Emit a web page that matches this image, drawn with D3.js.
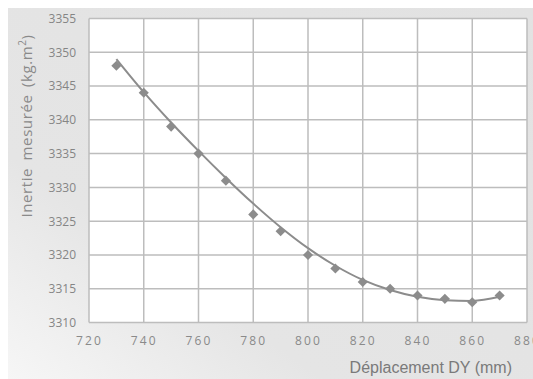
<!DOCTYPE html>
<html>
<head>
<meta charset="utf-8">
<script src="https://cdn.jsdelivr.net/npm/d3@7"></script>
<style>
  body { margin: 0; background: #fff; }
  svg { display: block; }
</style>
</head>
<body>
<div id="root"></div>
<script>
const WIDTH = 533;
const HEIGHT = 379;
const margin = { left: 89, right: 6, top: 18.5, bottom: 56.5 };

// measured points
const deplacement = [730, 740, 750, 760, 770, 780, 790, 800, 810, 820, 830, 840, 850, 860, 870];
const inertie = [3348, 3344, 3339, 3335, 3331, 3326, 3323.5, 3320, 3318, 3316, 3315, 3314, 3313.5, 3313, 3314];
// trend curve
const trend = [3349, 3344.1, 3339.6, 3335.4, 3331.4, 3327.6, 3324.1, 3321, 3318.4, 3316.3, 3314.8, 3313.8, 3313.3, 3313.2, 3313.8];

const xTicks = [720, 740, 760, 780, 800, 820, 840, 860, 880];
const yTicks = [3310, 3315, 3320, 3325, 3330, 3335, 3340, 3345, 3350, 3355];

const w = WIDTH - margin.left - margin.right;
const h = HEIGHT - margin.top - margin.bottom;

const x = d3.scaleLinear().domain([720, 880]).range([0, w]);
const y = d3.scaleLinear().domain([3310, 3355]).range([h, 0]);

const root = d3.select('#root').append('svg')
    .attr('width', WIDTH)
    .attr('height', HEIGHT);

const defs = root.append('defs');
const grad = defs.append('linearGradient')
    .attr('id', 'bg')
    .attr('x1', '100%').attr('y1', '0%')
    .attr('x2', '0%').attr('y2', '100%');
grad.append('stop').attr('offset', '0%').attr('stop-color', '#e2e2e2');
grad.append('stop').attr('offset', '70%').attr('stop-color', '#e5e5e5');
grad.append('stop').attr('offset', '100%').attr('stop-color', '#f6f6f6');

root.append('rect')
    .attr('x', 8).attr('y', 8)
    .attr('width', WIDTH - 8).attr('height', HEIGHT - 8)
    .attr('fill', 'url(#bg)');

const svg = root.append('g')
    .attr('transform', `translate(${margin.left}, ${margin.top})`);

svg.append('rect')
    .attr('width', w).attr('height', h)
    .attr('fill', '#fff');

// grid
svg.append('g')
    .selectAll('line')
    .data(xTicks)
    .enter().append('line')
    .attr('x1', d => x(d)).attr('x2', d => x(d))
    .attr('y1', 0).attr('y2', h)
    .attr('stroke', '#bdbdbd')
    .attr('stroke-width', 1.5);

svg.append('g')
    .selectAll('line')
    .data(yTicks)
    .enter().append('line')
    .attr('x1', 0).attr('x2', w)
    .attr('y1', d => y(d)).attr('y2', d => y(d))
    .attr('stroke', '#bdbdbd')
    .attr('stroke-width', 1.5);

// axes (labels only)
const xAxis = d3.axisBottom(x).tickValues(xTicks).tickFormat(d3.format('d')).tickSize(0).tickPadding(14);
const yAxis = d3.axisLeft(y).tickValues(yTicks).tickFormat(d3.format('d')).tickSize(0).tickPadding(13);

const gx = svg.append('g')
    .attr('transform', `translate(0, ${h})`)
    .call(xAxis);
gx.select('.domain').remove();
gx.selectAll('text')
    .attr('fill', '#8a8a8a')
    .style('font-family', '"Open Sans", sans-serif')
    .style('font-size', '12px')
    .style('letter-spacing', '2.2px');

const gy = svg.append('g').call(yAxis);
gy.select('.domain').remove();
gy.selectAll('text')
    .attr('fill', '#858585')
    .style('font-family', '"Open Sans", sans-serif')
    .style('font-size', '12px');

// axis titles
root.append('text')
    .attr('transform', 'translate(32, 126) rotate(-90)')
    .attr('text-anchor', 'middle')
    .attr('fill', '#8a8a8a')
    .style('font-family', '"Open Sans", sans-serif')
    .style('font-size', '15px')
    .style('letter-spacing', '0.6px')
    .style('word-spacing', '3px')
    .html('Inertie mesurée (kg.m<tspan dy="-6" font-size="10">2</tspan><tspan dy="6">)</tspan>');

root.append('text')
    .attr('x', 512)
    .attr('y', 373)
    .attr('text-anchor', 'end')
    .attr('fill', '#7a7a7a')
    .style('font-family', '"Liberation Sans", Arial, sans-serif')
    .style('font-size', '16px')
    .text('Déplacement DY (mm)');

// trend line
const line = d3.line()
    .x((d, i) => x(deplacement[i]))
    .y(d => y(d))
    .curve(d3.curveMonotoneX);

svg.append('path')
    .datum(trend)
    .attr('d', line)
    .attr('fill', 'none')
    .attr('stroke', '#8c8c8c')
    .attr('stroke-width', 2);

// markers
svg.append('g')
    .selectAll('path')
    .data(inertie)
    .enter().append('path')
    .attr('transform', (d, i) => `translate(${x(deplacement[i])}, ${y(d)})`)
    .attr('d', d3.symbol().type(d3.symbolDiamond2).size(65))
    .attr('fill', '#8c8c8c');
</script>
</body>
</html>
